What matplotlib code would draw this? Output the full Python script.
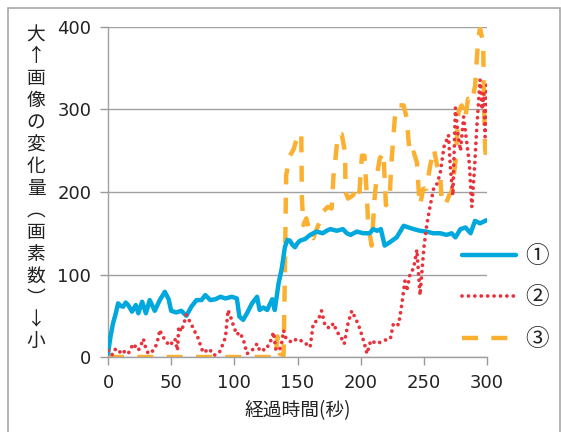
import matplotlib
matplotlib.use("Agg")
import matplotlib.pyplot as plt
from matplotlib.patches import Rectangle

plt.rcParams['font.family'] = ['DejaVu Sans']
JP = ['Noto Sans CJK JP', 'DejaVu Sans']

# ---------------- data ----------------
series_labels = ['①', '②', '③']

t1 = [0, 2, 4, 6, 8, 10, 12, 14, 16, 19, 22, 24, 27, 30, 33, 37, 41, 45, 48, 50, 54, 58,
      62, 66, 70, 74, 77, 81, 85, 89, 93, 98, 102, 104, 107, 110, 114, 118, 120, 123,
      126, 130, 132, 135, 137.5, 140, 142, 144, 146, 148, 150, 152, 156, 160, 165, 170, 173,
      176, 181, 186, 189, 192, 197, 202, 207, 210, 213, 216, 219, 223, 228.5, 234, 238,
      242, 247, 252, 257.5, 263, 268, 272, 275, 279, 283, 287, 290.5, 294.5, 298.5, 300]
v1 = [4, 25, 41, 52, 65, 62, 61, 66, 63, 55, 63, 53, 67, 53, 69, 56, 69, 79, 70, 56, 54, 56,
      50, 61, 69, 69, 75, 69, 70, 73, 71, 73, 71, 49, 45, 53, 65, 73, 57, 60,
      57, 70, 57, 89, 107, 133, 142, 141, 136, 133, 138, 141, 143, 148, 152, 150, 153,
      155, 153, 155, 150, 148, 152, 150, 150, 155, 153, 155, 135, 139, 145, 159, 157,
      155, 153, 152, 150, 150, 148, 150, 145, 155, 157, 150, 165, 162, 165, 166]

t2 = [0, 2, 4, 6, 8, 10, 12, 14, 16, 18, 20, 22, 24, 26, 28, 30, 32, 34, 36, 38, 40, 41, 43,
      46, 48, 50, 53, 55, 56, 58, 60, 62, 64, 66, 68, 70, 72, 74, 76, 78, 80, 82, 84, 86,
      88, 90, 93, 95, 97, 99.5, 102, 104, 107, 110, 112, 114, 116, 118, 120, 122, 124,
      126, 128, 131, 133, 135, 137, 139, 141, 144, 147, 149, 152, 155, 158, 160, 162.5,
      166.5, 169, 172, 176, 178.5, 181, 184.5, 187, 190, 193, 195.5, 198, 200, 203, 205,
      208, 213, 218, 223.5, 226, 230, 232.5, 235, 236.5, 239, 242, 244.5, 246, 247,
      248.5, 250, 252.5, 255, 258, 260.5, 263, 266, 269.5, 271, 273, 275, 277, 279,
      281.5, 284, 286, 288, 290, 292, 294.5, 296, 297.5, 298.5, 300]
v2 = [8, 3, 3, 10, 9, 5, 8, 4, 4, 10, 16, 12, 8, 14, 22, 10, 4, 6, 8, 14, 24, 33, 25,
      20, 14, 16, 22, 8, 37, 31, 40, 51, 45, 40, 32, 28, 20, 10, 5, 8, 10, 6, 2, 4,
      5, 12, 24, 57, 49, 37, 27, 30, 22, 4, 6, 8, 12, 16, 8, 10, 8,
      12, 16, 30, 8, 8, 12, 32, 22, 19, 18, 22, 20, 19, 14, 12, 41,
      45, 56, 37, 35, 41, 31, 24, 16, 41, 56, 48, 40, 31, 16, 4,
      20, 16, 20, 22, 41, 39, 63, 92, 80, 100, 108, 130, 96, 75,
      103, 132, 162, 183, 206, 210, 223, 255, 269, 230, 196, 302, 270, 250,
      291, 260, 235, 182, 226, 280, 336, 300, 320, 267, 334]

t3 = [0, 20, 40, 60, 80, 100, 120, 133, 134, 136, 139, 140, 141, 144, 147, 150.7, 153,
      153.5, 154.6, 157, 160, 162.5, 166.5, 170, 174, 177, 178.5, 180, 182, 185, 187.7,
      188, 190, 194, 197, 199, 201, 203, 205, 206, 208.7, 211, 212.5, 215, 218, 219,
      220, 223, 224, 227, 229, 234, 236.5, 238, 239, 242, 244.5, 246, 247, 249.6, 252,
      255, 258, 260.5, 263, 264, 267, 270, 272, 275, 277.4, 280, 282.7, 285, 288,
      290.6, 292, 293, 294.5, 297, 297.5, 298.5, 300]
v3 = [0, 0, 0, 0, 0, 0, 0, 0, 25, 4, 2, 100, 220, 244, 252, 272, 268,
      192, 160, 168, 148, 144, 160, 176, 182, 180, 220, 240, 270, 270, 248,
      200, 192, 196, 208, 200, 244, 244, 192, 160, 135, 192, 216, 240, 248, 216,
      184, 192, 228, 289, 305, 305, 289, 260, 244, 248, 236, 200, 184, 204, 204,
      232, 252, 232, 220, 192, 184, 196, 200, 236, 297, 305, 289, 313, 309,
      329, 362, 386, 398, 381, 317, 252, 236]

x_ticks = [0, 50, 100, 150, 200, 250, 300]
y_ticks = [0, 100, 200, 300, 400]
x_label = '経過時間(秒)'
y_label_chars = ['大', '↑', '画', '像', 'の', '変', '化', '量', '︵', '画', '素', '数', '︶', '↓', '小']

# ---------------- figure ----------------
W, H = 561, 432
fig = plt.figure(figsize=(W / 100, H / 100), dpi=100)
ax = fig.add_axes([108 / W, 1 - 357 / H, (487 - 108) / W, (357 - 27) / H])

blue = '#00A8DE'
red = '#E8323C'
orange = '#FBB031'

l1, = ax.plot(t1, v1, color=blue, lw=3.2, solid_joinstyle='round', solid_capstyle='round',
              label=series_labels[0], zorder=3)
l2, = ax.plot(t2, v2, color=red, lw=2.7, dashes=(0.01, 1.7), dash_capstyle='round',
              label=series_labels[1], zorder=4)
l3, = ax.plot(t3, v3, color=orange, lw=3.2, dashes=(3.6, 3.0), dash_capstyle='butt',
              label=series_labels[2], zorder=2)

ax.set_xlim(0, 300)
ax.set_ylim(0, 400)
ax.set_xticks(x_ticks)
ax.set_yticks(y_ticks)
ax.tick_params(axis='both', labelsize=13, colors='#999999', labelcolor='#222222',
               length=6, width=1, direction='out')
ax.tick_params(axis='x', pad=6)
ax.tick_params(axis='y', pad=6)
ax.yaxis.grid(True, color='#A0A0A0', lw=1)
ax.set_axisbelow(True)
for s in ['top', 'right']:
    ax.spines[s].set_visible(False)
for s in ['left', 'bottom']:
    ax.spines[s].set_color('#A0A0A0')
    ax.spines[s].set_linewidth(1)

ax.set_xlabel(x_label, fontsize=13.5, family=JP, color='#222222', labelpad=6)

# vertical stacked y label
n = len(y_label_chars)
top_px, bot_px = 35, 342
for i, ch in enumerate(y_label_chars):
    ypx = top_px + (bot_px - top_px) * i / (n - 1)
    fig.text(36 / W, 1 - ypx / H, ch, fontsize=13.5, family=JP, color='#222222',
             ha='center', va='center')

leg = ax.legend(handles=[l1, l2, l3], loc='upper left',
                bbox_to_anchor=((462 - 108) / 379, (357 - 245) / 330),
                frameon=False, prop={'family': JP, 'size': 17},
                handlelength=2.3, handletextpad=0.4, labelspacing=0.78,
                borderpad=0, borderaxespad=0)
for t in leg.get_texts():
    t.set_color('#222222')

# outer frame (top, left, right)
fig.patches.append(Rectangle((7.5 / W, -0.05), (559.5 - 7.5) / W, 1.05 - 7.5 / H,
                             transform=fig.transFigure, fill=False,
                             edgecolor='#A8A8A8', lw=1.2, clip_on=False))

fig.savefig('out.png', dpi=100)
